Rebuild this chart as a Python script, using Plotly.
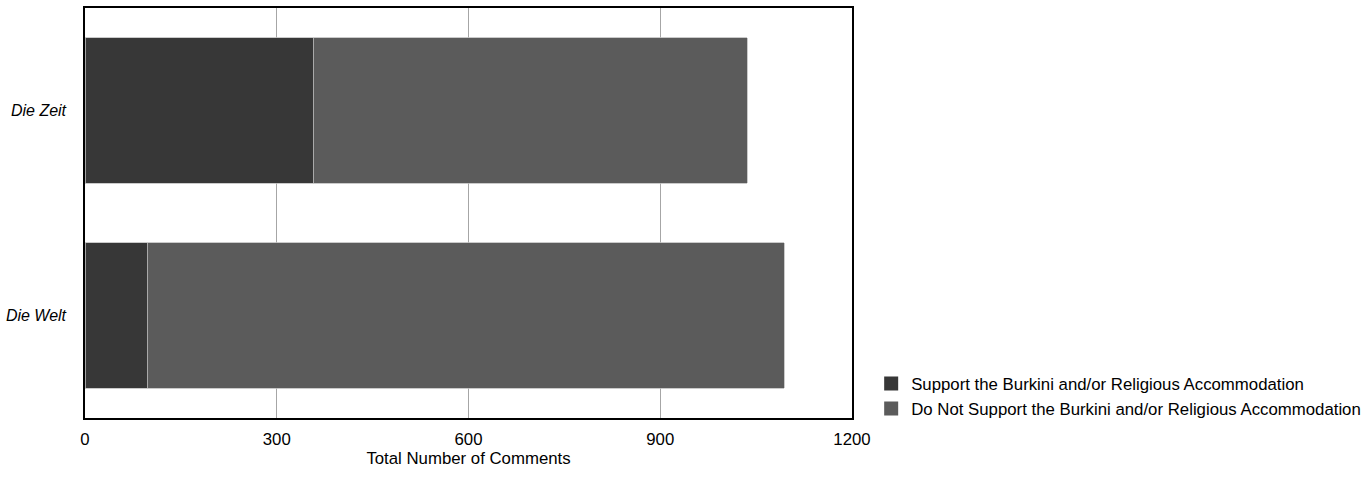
import plotly.graph_objects as go

categories = ["Die Welt", "Die Zeit"]
support = [97, 357]
not_support = [997, 679]
series_names = ["Support the Burkini and/or Religious Accommodation",
                "Do Not Support the Burkini and/or Religious Accommodation"]
series_colors = ["#373737", "#5b5b5b"]
x_ticks = [0, 300, 600, 900, 1200]

FS = 16.8
fig = go.Figure()
for vals, name, col in zip([support, not_support], series_names, series_colors):
    fig.add_trace(go.Bar(y=categories, x=vals, name=name, orientation="h", showlegend=False,
                         marker=dict(color=col, line=dict(color="#bdbdbd", width=0.8))))
# legend-only entries with larger square swatches
for name, col in zip(series_names, series_colors):
    fig.add_trace(go.Scatter(x=[None], y=[None], mode="markers", name=name,
                             marker=dict(symbol="square", size=14, color=col)))

fig.update_layout(
    width=1370, height=483,
    barmode="stack", bargap=0.29,
    plot_bgcolor="white", paper_bgcolor="white",
    margin=dict(l=85, r=518, t=8, b=65, autoexpand=False),
    font=dict(family="Liberation Sans, Arial, sans-serif", size=FS, color="black"),
    legend=dict(x=1.025, xanchor="left", y=-0.02, yanchor="bottom", traceorder="normal",
                font=dict(size=FS), bgcolor="rgba(0,0,0,0)", tracegroupgap=0,
                itemsizing="trace", itemwidth=30),
    showlegend=True,
)
fig.update_xaxes(range=[0, 1200], tickvals=x_ticks, showgrid=True, gridcolor="#a6a6a6", gridwidth=1,
                 showline=True, linecolor="black", linewidth=1.5, mirror=True, zeroline=False,
                 ticks="", ticklabelstandoff=5, automargin=False,
                 title=dict(text="Total Number of Comments", font=dict(size=FS), standoff=4))
fig.update_yaxes(showline=True, linecolor="black", linewidth=1.5, mirror=True, showgrid=False,
                 ticks="", ticklabelstandoff=14, automargin=False,
                 tickfont=dict(style="italic", size=16))

fig.write_html("out.html", config={"displayModeBar": False},
               post_script="document.body.style.margin='0px';document.body.style.padding='0px';")
